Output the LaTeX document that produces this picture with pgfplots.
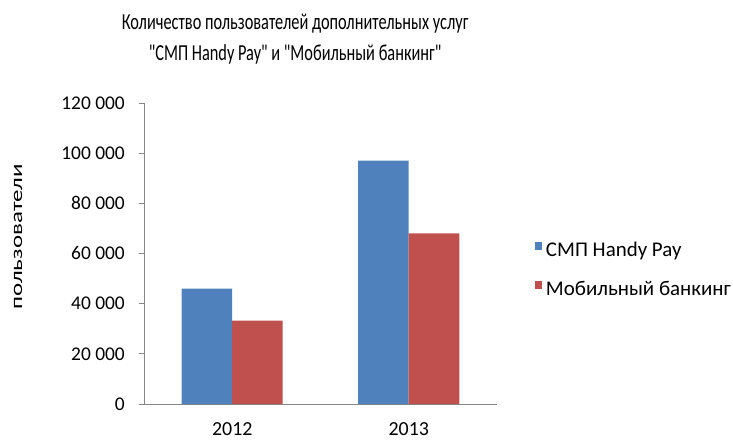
\documentclass[border=0pt]{standalone}
\usepackage{pgfplots}
\pgfplotsset{compat=1.18}
\usepackage{fontspec}
\setmainfont{Carlito}[Ligatures=TeXOff]
\definecolor{exblue}{HTML}{4F81BD}
\definecolor{exred}{HTML}{C0504D}
\definecolor{axgray}{HTML}{868686}
\newcommand{\q}{\symbol{34}}
\begin{document}
\begin{tikzpicture}
\useasboundingbox (-144bp,-37bp) rectangle (589bp,404bp);
\begin{axis}[
  at={(0,0)}, anchor=south west,
  scale only axis,
  width=353bp, height=301bp,
  ybar=0pt, bar width=50.5bp,
  xmin=-0.5, xmax=1.5,
  ymin=0, ymax=120000,
  xtick={0,1}, xticklabels={2012,2013},
  ytick={0,20000,40000,60000,80000,100000,120000},
  yticklabels={0,20 000,40 000,60 000,80 000,100 000,120 000},
  scaled y ticks=false,
  axis lines=left,
  axis line style={draw=axgray, line width=0.8bp, -},
  x tick style={draw=none},
  y tick style={draw=axgray, line width=0.8bp},
  tick align=outside,
  major tick length=5bp,
  yticklabel style={font=\fontsize{19.5}{22}\selectfont, text=black, inner sep=0pt, xshift=-14bp},
  xticklabel style={font=\fontsize{20}{22}\selectfont, text=black, inner sep=0pt, text height=12.6bp, text depth=0bp, yshift=-14bp},
  every axis y label/.style={at={(axis description cs:-0.357,0.555)}, rotate=90, anchor=center},
  ylabel={\scalebox{1}[0.68]{пользователи}},
  ylabel style={font=\fontsize{25}{28}\selectfont},
  title style={at={(axis description cs:0.428,1.192)}, anchor=center, align=center, font=\fontsize{23}{30.7}\selectfont},
  title={\scalebox{0.713}[1]{Количество пользователей дополнительных услуг}\\\scalebox{0.713}[1]{\q СМП Handy Pay\q{} и \q Мобильный банкинг\q}},
  legend style={at={(axis description cs:1.107,0.442)}, anchor=west, draw=none, fill=none,
    font=\fontsize{21}{24}\selectfont, row sep=21bp, inner sep=0pt,
    nodes={text height=14bp, text depth=4bp, inner xsep=3.5bp, inner ysep=0pt}},
  legend cell align=left,
  legend image code/.code={\fill[#1] (0bp,1.5bp) rectangle (7.5bp,9bp);},
]
\addplot[fill=exblue, draw=none] coordinates {(0,46000) (1,97000)};
\addplot[fill=exred, draw=none] coordinates {(0,33200) (1,68000)};
\legend{СМП Handy Pay, Мобильный банкинг}
\end{axis}
\end{tikzpicture}
\end{document}
